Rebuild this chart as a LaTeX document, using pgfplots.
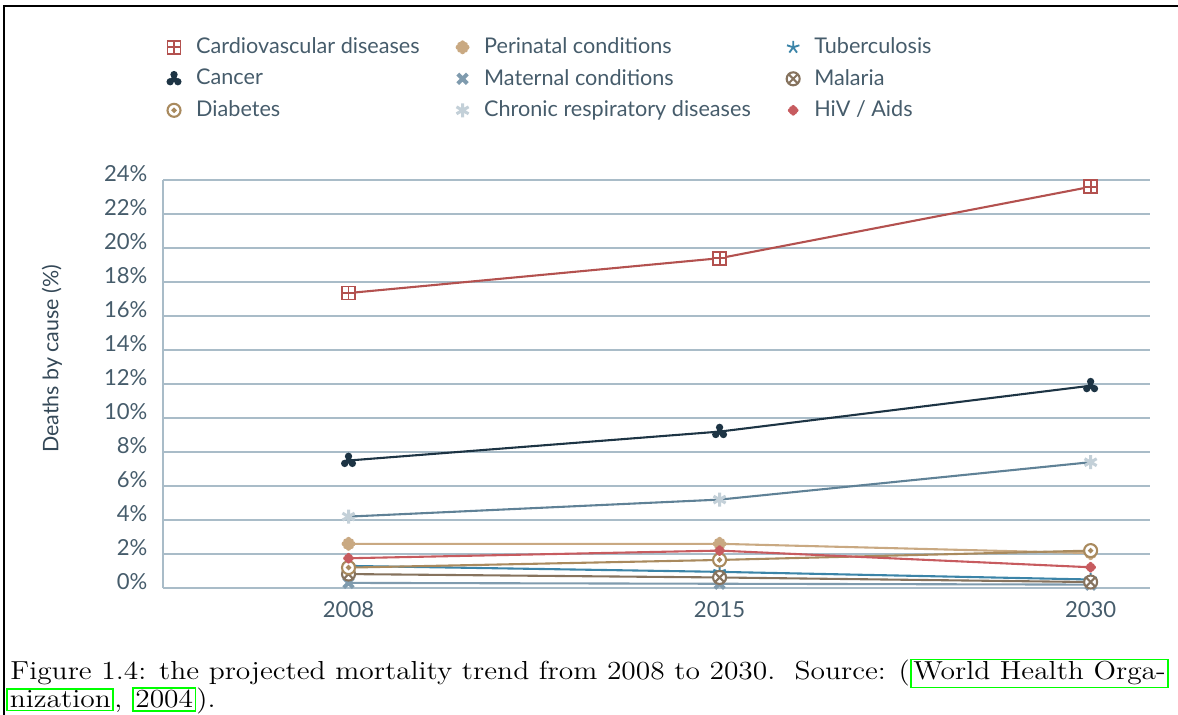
\documentclass[border=0pt]{standalone}
\usepackage{pgfplots}
\pgfplotsset{compat=1.18}
\usepackage{graphicx}
\usepackage{fontspec}
\newfontfamily\lato{Lato}
\definecolor{txt}{HTML}{465C6B}
\definecolor{grid}{HTML}{A9BCC8}
\definecolor{cardio}{HTML}{B3514F}
\definecolor{cancer}{HTML}{1D3444}
\definecolor{chronL}{HTML}{5F8196}
\definecolor{chronM}{HTML}{C3D0D8}
\definecolor{peri}{HTML}{C9A982}
\definecolor{hiv}{HTML}{C75B5F}
\definecolor{diab}{HTML}{A98A5E}
\definecolor{tb}{HTML}{3B84A8}
\definecolor{mal}{HTML}{86735E}
\definecolor{mat}{HTML}{7F9BAE}
\pgfdeclareplotmark{boxplus}{%
  \pgfpathrectangle{\pgfqpoint{-\pgfplotmarksize}{-\pgfplotmarksize}}{\pgfqpoint{2\pgfplotmarksize}{2\pgfplotmarksize}}%
  \pgfusepathqfillstroke
  \pgfpathmoveto{\pgfqpoint{-\pgfplotmarksize}{0pt}}\pgfpathlineto{\pgfqpoint{\pgfplotmarksize}{0pt}}%
  \pgfpathmoveto{\pgfqpoint{0pt}{-\pgfplotmarksize}}\pgfpathlineto{\pgfqpoint{0pt}{\pgfplotmarksize}}%
  \pgfusepathqstroke}
\pgfdeclareplotmark{tripod}{%
  \pgfpathcircle{\pgfqpoint{0pt}{0.55\pgfplotmarksize}}{0.48\pgfplotmarksize}%
  \pgfpathcircle{\pgfqpoint{-0.5\pgfplotmarksize}{-0.38\pgfplotmarksize}}{0.48\pgfplotmarksize}%
  \pgfpathcircle{\pgfqpoint{0.5\pgfplotmarksize}{-0.38\pgfplotmarksize}}{0.48\pgfplotmarksize}%
  \pgfpathcircle{\pgfqpoint{0pt}{0pt}}{0.4\pgfplotmarksize}%
  \pgfusepathqfill}
\pgfdeclareplotmark{odot}{%
  \pgfpathcircle{\pgfpointorigin}{\pgfplotmarksize}\pgfusepathqfillstroke
  \pgfpathcircle{\pgfpointorigin}{0.22\pgfplotmarksize}\pgfusepathqstroke}
\pgfdeclareplotmark{flower}{%
  \pgfpathcircle{\pgfpointorigin}{0.62\pgfplotmarksize}%
  \pgfpathcircle{\pgfqpoint{0pt}{0.62\pgfplotmarksize}}{0.38\pgfplotmarksize}%
  \pgfpathcircle{\pgfqpoint{0pt}{-0.62\pgfplotmarksize}}{0.38\pgfplotmarksize}%
  \pgfpathcircle{\pgfqpoint{0.62\pgfplotmarksize}{0pt}}{0.38\pgfplotmarksize}%
  \pgfpathcircle{\pgfqpoint{-0.62\pgfplotmarksize}{0pt}}{0.38\pgfplotmarksize}%
  \pgfpathcircle{\pgfqpoint{0.44\pgfplotmarksize}{0.44\pgfplotmarksize}}{0.3\pgfplotmarksize}%
  \pgfpathcircle{\pgfqpoint{-0.44\pgfplotmarksize}{0.44\pgfplotmarksize}}{0.3\pgfplotmarksize}%
  \pgfpathcircle{\pgfqpoint{0.44\pgfplotmarksize}{-0.44\pgfplotmarksize}}{0.3\pgfplotmarksize}%
  \pgfpathcircle{\pgfqpoint{-0.44\pgfplotmarksize}{-0.44\pgfplotmarksize}}{0.3\pgfplotmarksize}%
  \pgfusepathqfill}
\newcommand\lk[1]{{\setlength\fboxsep{0.6pt}\setlength\fboxrule{0.7pt}\fcolorbox{green}{white}{#1}}}
\begin{document}
\begin{tikzpicture}
\path[use as bounding box] (0pt,0pt) rectangle (506.54pt,-307.45pt);
\begin{scope}[x=0.43pt,y=-0.43pt]
\draw[line width=1.2pt,black] (4,715) -- (4,6) -- (1180,6);
\node[rotate=90,font=\lato\fontsize{9.2}{10}\selectfont,text=cancer!90!white] at (52,359) {Deaths by cause (\%)};
\node[anchor=base west,font=\fontsize{11.2}{12}\selectfont,inner sep=0pt] at (10,680) {\scalebox{1.131}[1]{Figure 1.4: the projected mortality trend from 2008 to 2030.\ \ Source: (\lk{World Health Orga-}}};
\node[anchor=base west,font=\fontsize{11.2}{12}\selectfont,inner sep=0pt] at (6,708) {\scalebox{1.131}[1]{\lk{nization}, \lk{2004}).}};
\end{scope}
\begin{axis}[
  at={(70.09pt,-252.84pt)}, anchor=south west,
  scale only axis, width=424.41pt, height=175.44pt,
  xmin=-0.5, xmax=2.16, ymin=0, ymax=24,
  xtick={0,1,2}, xticklabels={2008,2015,2030},
  ytick={0,2,...,24},
  yticklabels={0\%,2\%,4\%,6\%,8\%,10\%,12\%,14\%,16\%,18\%,20\%,22\%,24\%},
  axis lines=left, axis line style={-, draw=grid, line width=0.65pt},
  major tick length=0pt,
  ymajorgrids, grid style={draw=grid, line width=0.65pt},
  tick label style={font=\lato\fontsize{9.5}{11}\selectfont, text=txt},
  yticklabel style={yshift=2.6pt, xshift=-3.2pt},
  xticklabel style={yshift=-2.2pt},
  clip=false,
  legend columns=3,
  legend cell align=left,
  legend style={at={(-0.004,1.373)}, anchor=north west, draw=none, fill=none,
    font=\lato\fontsize{9.3}{11}\selectfont, text=txt,
    /tikz/every even column/.append style={column sep=13.4pt},
    /tikz/every odd column/.append style={column sep=4.3pt},
    row sep=1.2pt},
  legend image code/.code={\draw[#1] plot coordinates {(0.1cm,0cm)};},
  every axis plot/.append style={line width=0.9pt},
]
\addplot[cardio, mark=boxplus, mark size=2.8pt, mark options={fill=white, line width=0.8pt}] coordinates {(0,17.35) (1,19.4) (2,23.6)};
\addlegendentry{Cardiovascular diseases}
\addplot[peri, mark=flower, mark size=3pt] coordinates {(0,2.6) (1,2.6) (2,2.05)};
\addlegendentry{Perinatal conditions}
\addplot[tb, mark=star, mark size=2.8pt, mark options={line width=0.8pt}] coordinates {(0,1.3) (1,0.95) (2,0.5)};
\addlegendentry{Tuberculosis}
\addplot[cancer, mark=tripod, mark size=3.3pt] coordinates {(0,7.5) (1,9.2) (2,11.9)};
\addlegendentry{Cancer}
\addplot[mat, mark=x, mark size=2.9pt, mark options={line width=1.7pt}] coordinates {(0,0.3) (1,0.25) (2,0.2)};
\addlegendentry{Maternal conditions}
\addplot[mal, mark=otimes*, mark size=2.8pt, mark options={fill=white, line width=0.9pt}] coordinates {(0,0.82) (1,0.62) (2,0.35)};
\addlegendentry{Malaria}
\addplot[diab, mark=odot, mark size=2.8pt, mark options={fill=white, line width=0.9pt}] coordinates {(0,1.2) (1,1.65) (2,2.2)};
\addlegendentry{Diabetes}
\addplot[chronL, mark=asterisk, mark size=3pt, mark options={draw=chronM, line width=1.3pt}] coordinates {(0,4.2) (1,5.2) (2,7.4)};
\addlegendentry{Chronic respiratory diseases}
\addplot[hiv, mark=flower, mark size=2.3pt] coordinates {(0,1.75) (1,2.2) (2,1.22)};
\addlegendentry{HiV / Aids}
\end{axis}
\end{tikzpicture}
\end{document}
